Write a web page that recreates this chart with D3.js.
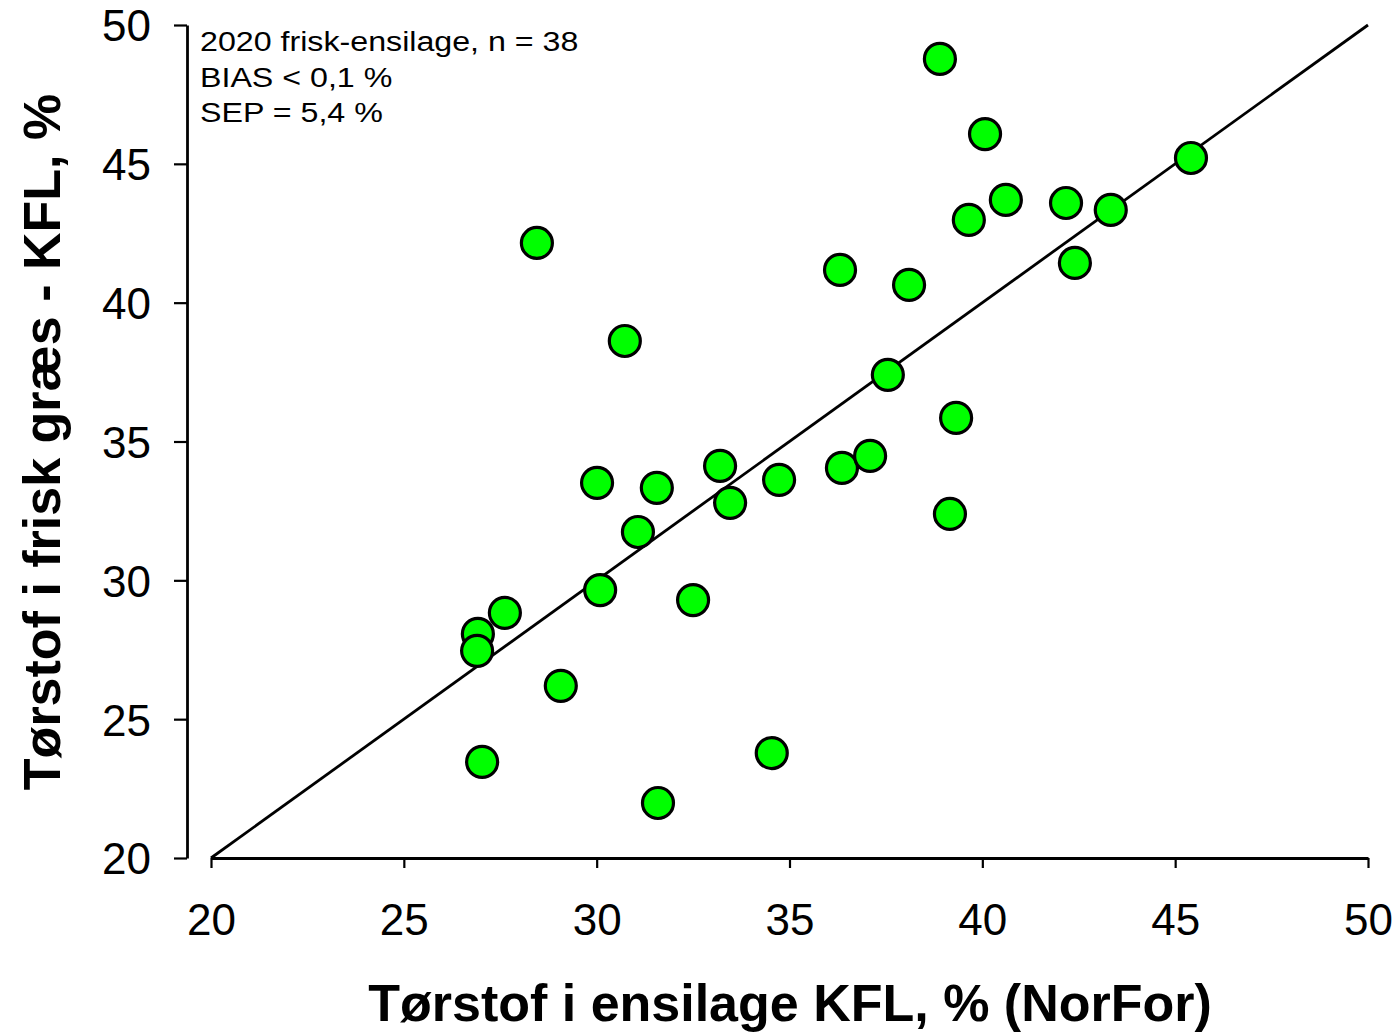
<!DOCTYPE html>
<html>
<head>
<meta charset="utf-8">
<script src="https://cdn.jsdelivr.net/npm/d3@7/dist/d3.min.js"></script>
<style>
  html, body { margin: 0; padding: 0; background: #fff; }
  svg { display: block; }
  text { font-family: "Liberation Sans", Arial, sans-serif; fill: #000; }
</style>
</head>
<body>
<svg id="chart" width="1399" height="1032"></svg>
<script>
// Data
const xValues = [38.9, 40.07, 45.41, 40.61, 42.17, 43.33, 39.65, 28.45, 36.31, 38.10, 42.40,
                 30.73, 37.55, 39.32, 33.20, 30.01, 31.56, 34.73, 33.46, 36.36, 37.09, 39.16,
                 31.07, 30.09, 32.50, 27.62, 26.92, 26.90, 29.07, 27.03, 34.54, 31.59];
const yValues = [48.78, 46.07, 45.21, 43.70, 43.59, 43.34, 42.98, 42.15, 41.18, 40.64, 41.43,
                 38.62, 37.40, 35.85, 34.12, 33.51, 33.33, 33.62, 32.79, 34.05, 34.48, 32.39,
                 31.74, 29.65, 29.29, 28.83, 28.07, 27.46, 26.20, 23.46, 23.78, 21.98];
const xTicks = [20, 25, 30, 35, 40, 45, 50];
const yTicks = [20, 25, 30, 35, 40, 45, 50];
const lineEnds = [20, 50];
const infoLines = ["2020 frisk-ensilage, n = 38", "BIAS < 0,1 %", "SEP = 5,4 %"];
const xTitle = "Tørstof i ensilage KFL, % (NorFor)";
const yTitle = "Tørstof i frisk græs - KFL, %";

const svg = d3.select("#chart");
const x = d3.scaleLinear().domain([20, 50]).range([211, 1368]);
const y = d3.scaleLinear().domain([20, 50]).range([858, 25]);

// 1:1 line
svg.append("line")
  .attr("x1", x(lineEnds[0])).attr("y1", y(lineEnds[0]))
  .attr("x2", x(lineEnds[1])).attr("y2", y(lineEnds[1]))
  .attr("stroke", "#000").attr("stroke-width", 2.8);

// X axis
const xAxis = svg.append("g")
  .attr("transform", `translate(0,${y(20)})`)
  .call(d3.axisBottom(x).tickValues(xTicks).tickSize(10).tickSizeOuter(0).tickPadding(0));
xAxis.select(".domain").attr("stroke", "#000").attr("stroke-width", 2.8);
xAxis.selectAll(".tick line").attr("stroke", "#000").attr("stroke-width", 2.2);
xAxis.selectAll(".tick text")
  .attr("y", 77).attr("dy", null)
  .style("font-size", "44px").style("font-family", '"Liberation Sans", Arial, sans-serif');

// Y axis (offset to the left)
const yAxis = svg.append("g")
  .attr("transform", "translate(187,0)")
  .call(d3.axisLeft(y).tickValues(yTicks).tickSize(13).tickSizeOuter(0).tickPadding(0));
yAxis.select(".domain").attr("stroke", "#000").attr("stroke-width", 2.8);
yAxis.selectAll(".tick line").attr("stroke", "#000").attr("stroke-width", 2.2);
yAxis.selectAll(".tick text")
  .attr("x", -36).attr("dy", "0.36em")
  .style("font-size", "44px").style("font-family", '"Liberation Sans", Arial, sans-serif');

// Points
svg.append("g").selectAll("circle")
  .data(xValues.map((v, i) => [v, yValues[i]]))
  .join("circle")
  .attr("cx", d => x(d[0])).attr("cy", d => y(d[1]))
  .attr("r", 15.5)
  .attr("fill", "#00ff00")
  .attr("stroke", "#000").attr("stroke-width", 3.2);

// Info text
const infoBaselines = [51, 87, 122];
svg.append("g").selectAll("text")
  .data(infoLines)
  .join("text")
  .attr("transform", (d, i) => `translate(200,${infoBaselines[i]}) scale(1.15,1)`)
  .style("font-size", "28px")
  .text(d => d);

// Axis titles
svg.append("text")
  .attr("x", 790).attr("y", 1021)
  .attr("text-anchor", "middle")
  .style("font-size", "52px").style("font-weight", "bold")
  .text(xTitle);

svg.append("text")
  .attr("transform", "translate(60,442) rotate(-90)")
  .attr("text-anchor", "middle")
  .style("font-size", "52px").style("font-weight", "bold")
  .text(yTitle);
</script>
</body>
</html>
